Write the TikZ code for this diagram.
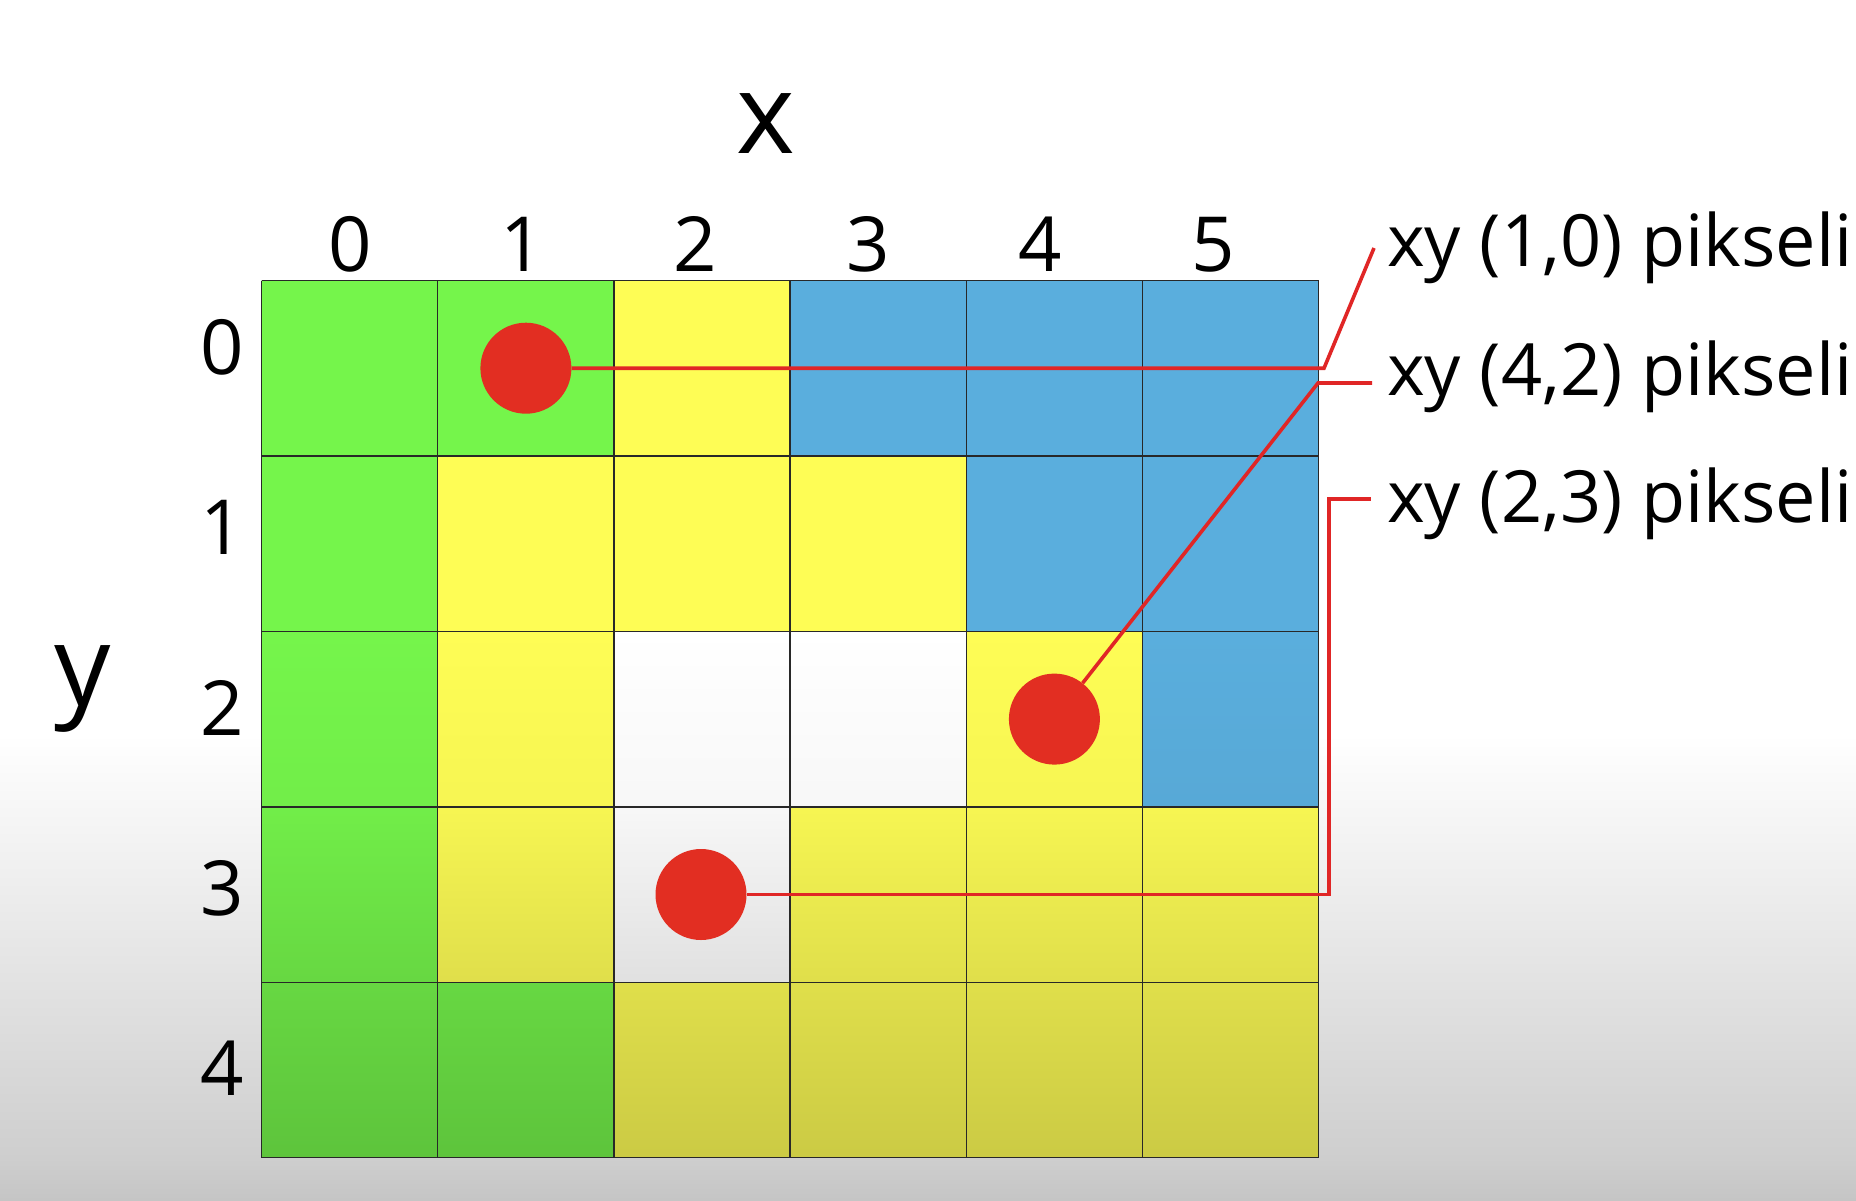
\documentclass[tikz,border=0pt]{standalone}
\usepackage{fontspec}
\setmainfont{Open Sans}
\definecolor{cgreen}{RGB}{117,245,75}
\definecolor{cyellow}{RGB}{254,253,85}
\definecolor{cblue}{RGB}{90,174,221}
\definecolor{cwhite}{RGB}{255,255,255}
\definecolor{dotred}{RGB}{226,46,34}
\definecolor{linered}{RGB}{224,38,38}
\definecolor{bgA}{RGB}{206,206,206}
\definecolor{bgB}{RGB}{197,197,197}
\definecolor{gridc}{RGB}{40,40,40}
\begin{document}
\begin{tikzpicture}[x=1pt,y=-1pt,
  cell/.style n args={3}{top color=#1!#2!black, bottom color=#1!#3!black},
  gridline/.style={draw=gridc, line width=1.4pt},
  dot/.style={circle, fill=dotred, minimum size=91pt, inner sep=0pt},
  conn/.style={draw=linered, line width=3.6pt, line join=miter},
  lbl/.style={font=\fontsize{72}{80}\selectfont, anchor=base west, inner sep=0pt},
  num/.style={font=\fontsize{76}{84}\selectfont, anchor=base, inner sep=0pt},
  axis/.style={font=\fontsize{112}{120}\selectfont, anchor=base, inner sep=0pt}]
\useasboundingbox (0,0) rectangle (1856,1200);
% background
\fill[white] (0,0) rectangle (1856,735);
\shade[top color=white, bottom color=bgA] (0,734) rectangle (1856,1159);
\shade[top color=bgA, bottom color=bgB] (0,1158) rectangle (1856,1200);
% cells
\foreach \c/\k in {0/cgreen,1/cgreen,2/cyellow,3/cblue,4/cblue,5/cblue}
  \path[cell={\k}{100}{100}] ({261.6+\c*176.17},280.5) rectangle ({261.6+(\c+1)*176.17},455.9);
\foreach \c/\k in {0/cgreen,1/cyellow,2/cyellow,3/cyellow,4/cblue,5/cblue}
  \path[cell={\k}{100}{100}] ({261.6+\c*176.17},455.9) rectangle ({261.6+(\c+1)*176.17},631.4);
\foreach \c/\k in {0/cgreen,1/cyellow,2/cwhite,3/cwhite,4/cyellow,5/cblue}
  \path[cell={\k}{100}{97}] ({261.6+\c*176.17},631.4) rectangle ({261.6+(\c+1)*176.17},806.8);
\foreach \c/\k in {0/cgreen,1/cyellow,2/cwhite,3/cyellow,4/cyellow,5/cyellow}
  \path[cell={\k}{97}{88}] ({261.6+\c*176.17},806.8) rectangle ({261.6+(\c+1)*176.17},982.2);
\foreach \c/\k in {0/cgreen,1/cgreen,2/cyellow,3/cyellow,4/cyellow,5/cyellow}
  \path[cell={\k}{88}{80}] ({261.6+\c*176.17},982.2) rectangle ({261.6+(\c+1)*176.17},1157.7);
% grid lines
\foreach \i in {0,...,6}
  \draw[gridline] ({261.6+\i*176.17},280.5) -- ({261.6+\i*176.17},1157.7);
\foreach \j in {0,...,5}
  \draw[gridline] (261.6,{280.5+\j*175.44}) -- (1318.6,{280.5+\j*175.44});
% axis labels
\node[axis] (ax) at (766,153) {x};
\node[axis] (ay) at (83,705) {y};
\foreach \i in {0,...,5}
  \node[num] (cx\i) at ({350+\i*172.6},271) {\i};
\foreach \i/\yy in {0/374,1/554,2/735,3/915,4/1095}
  \node[num] (ry\i) at (222.5,\yy) {\i};
% dots
\node[dot] (p10) at (525.9,368.2) {};
\node[dot] (p42) at (1054.4,719.1) {};
\node[dot] (p23) at (701.0,894.5) {};
% labels
\node[lbl] (l1) at (1387,266) {xy (1,0) pikseli};
\node[lbl] (l2) at (1387,395) {xy (4,2) pikseli};
\node[lbl] (l3) at (1387,522) {xy (2,3) pikseli};
% connector bends
\coordinate (b1) at (1324,368.2);
\coordinate (e1) at (1374,248);
\coordinate (b2) at (1318,383);
\coordinate (e2) at (1372,383);
\coordinate (b3) at (1329,894.5);
\coordinate (c3) at (1329,499);
\coordinate (e3) at (1371,499);
\draw[conn] (p10) -- (b1) -- (e1);
\draw[conn] (p42) -- (b2) -- (e2);
\draw[conn] (p23) -- (b3) -- (c3) -- (e3);
\end{tikzpicture}
\end{document}
